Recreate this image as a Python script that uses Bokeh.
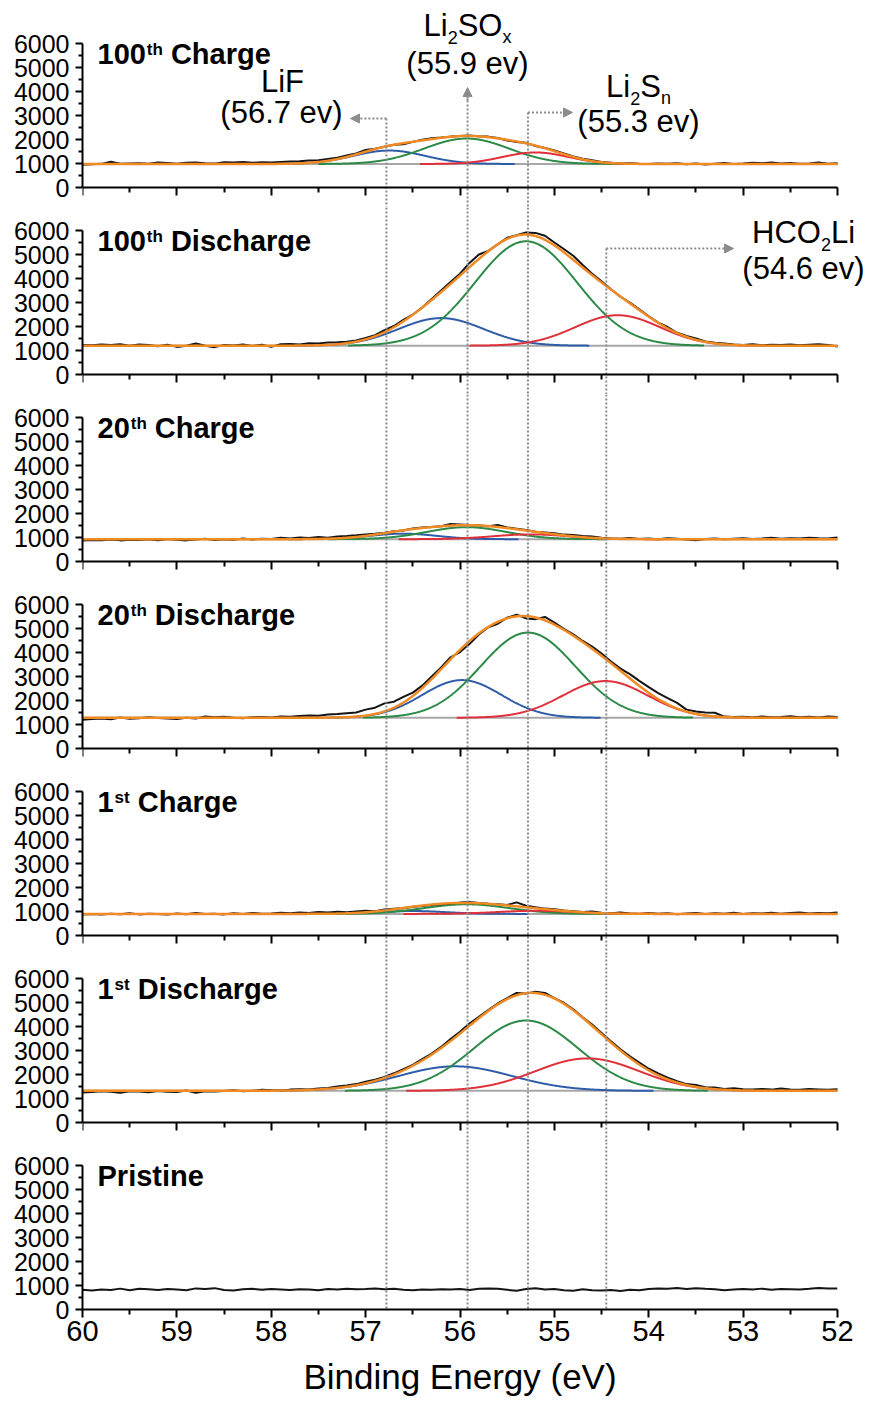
import numpy as np
from bokeh.plotting import figure
from bokeh.layouts import column
from bokeh.models import (Range1d, FixedTicker, Label, Arrow, NormalHead,
                          CustomJSTickFormatter)
from bokeh.embed import file_html
from bokeh.resources import INLINE

# ------------------------------------------------------------------ data
# binding-energy sampling grid of the measured spectra (eV), 60.0 -> 52.0
energy = np.round(np.linspace(60.0, 52.0, 81), 1)

counts_100_charge = [
    950, 970, 985, 1070, 990, 1000, 1010, 985, 1040, 1020,
    990, 1030, 1040, 1010, 995, 1050, 1040, 1060, 1030, 1050,
    1040, 1060, 1080, 1090, 1120, 1140, 1190, 1240, 1330, 1420,
    1560, 1620, 1700, 1780, 1800, 1900, 1990, 2050, 2080, 2120,
    2150, 2170, 2130, 2120, 2060, 1960, 1900, 1860, 1730, 1650,
    1540, 1420, 1290, 1200, 1140, 1060, 1030, 990, 1010, 985,
    980, 1000, 990, 1010, 970, 1000, 960, 990, 1020, 980,
    1000, 1030, 1010, 1040, 1000, 1020, 990, 1000, 1040, 990,
    1010]
counts_100_discharge = [
    1230, 1220, 1250, 1230, 1260, 1200, 1250, 1230, 1180, 1240,
    1150, 1200, 1290, 1200, 1140, 1230, 1210, 1250, 1190, 1240,
    1150, 1260, 1270, 1250, 1300, 1290, 1330, 1340, 1360, 1420,
    1520, 1640, 1850, 2020, 2280, 2500, 2790, 3150, 3500, 3850,
    4200, 4650, 5000, 5150, 5420, 5700, 5800, 5920, 5900, 5780,
    5500, 5230, 4950, 4560, 4200, 3880, 3550, 3240, 3000, 2720,
    2420, 2160, 1980, 1740, 1610, 1500, 1380, 1320, 1290, 1250,
    1230, 1260, 1220, 1240, 1230, 1250, 1220, 1240, 1260, 1230,
    1170]
counts_20_charge = [
    880, 900, 890, 920, 880, 910, 900, 930, 890, 940,
    910, 880, 920, 950, 900, 930, 910, 960, 920, 950,
    940, 990, 960, 1000, 980, 1020, 990, 1040, 1060, 1090,
    1130, 1160, 1200, 1260, 1290, 1380, 1420, 1440, 1470, 1560,
    1540, 1520, 1500, 1470, 1520, 1420, 1370, 1310, 1240, 1210,
    1180, 1120, 1100, 1060, 1040, 990, 960, 950, 980, 940,
    960, 930, 970, 950, 920, 890, 940, 960, 930, 950,
    970, 940, 960, 990, 950, 970, 960, 990, 970, 960,
    1000]
counts_20_discharge = [
    1200, 1230, 1250, 1220, 1290, 1240, 1260, 1300, 1270, 1250,
    1230, 1280, 1250, 1330, 1300, 1320, 1280, 1260, 1300, 1310,
    1290, 1330, 1320, 1350, 1380, 1360, 1420, 1440, 1470, 1500,
    1620, 1700, 1880, 1950, 2150, 2330, 2620, 3000, 3380, 3800,
    4020, 4350, 4750, 5050, 5200, 5450, 5580, 5420, 5390, 5480,
    5250, 4990, 4760, 4480, 4250, 3960, 3620, 3330, 3100, 2820,
    2560, 2310, 2100, 1900, 1620, 1540, 1500, 1490, 1330, 1310,
    1320, 1290, 1330, 1300, 1310, 1340, 1300, 1320, 1290, 1330,
    1310]
counts_1_charge = [
    870, 900, 880, 910, 890, 930, 880, 910, 900, 870,
    920, 890, 940, 900, 910, 880, 930, 900, 940, 910,
    920, 950, 930, 960, 940, 980, 960, 990, 970, 1000,
    1030, 1010, 1080, 1110, 1140, 1200, 1230, 1270, 1300, 1330,
    1370, 1400, 1350, 1320, 1300, 1270, 1380, 1240, 1180, 1120,
    1090, 1040, 1010, 980, 1000, 950, 930, 960, 920, 900,
    940, 910, 930, 890, 920, 940, 900, 930, 910, 950,
    900, 930, 920, 950, 910, 940, 960, 920, 940, 930,
    960]
counts_1_discharge = [
    1250, 1270, 1300, 1280, 1240, 1300, 1290, 1260, 1310, 1280,
    1270, 1330, 1240, 1300, 1290, 1310, 1340, 1300, 1320, 1360,
    1340, 1330, 1370, 1390, 1380, 1420, 1440, 1500, 1540, 1600,
    1700, 1780, 1900, 2050, 2220, 2400, 2640, 2870, 3150, 3480,
    3780, 4120, 4400, 4680, 4960, 5180, 5400, 5370, 5450, 5400,
    5180, 4990, 4720, 4380, 4080, 3730, 3380, 3050, 2760, 2500,
    2240, 2050, 1870, 1720, 1600, 1560, 1470, 1460, 1400, 1430,
    1390, 1380, 1400, 1370, 1420, 1380, 1360, 1400, 1380, 1360,
    1390]
counts_pristine = [
    820, 790, 830, 810, 870, 800, 860, 840, 810, 850,
    830, 800, 880, 850, 890, 810, 790, 840, 860, 820,
    850, 830, 810, 840, 830, 800, 850, 830, 860, 840,
    850, 870, 840, 860, 820, 800, 830, 820, 840, 830,
    850, 810, 860, 880, 860, 820, 780, 850, 890, 830,
    850, 800, 780, 840, 800, 790, 810, 770, 820, 800,
    850, 880, 860, 900, 850, 890, 860, 840, 800, 830,
    850, 830, 870, 820, 850, 840, 830, 860, 900, 870,
    880]

panel_titles = [("100", "th", "Charge"), ("100", "th", "Discharge"),
                ("20", "th", "Charge"), ("20", "th", "Discharge"),
                ("1", "st", "Charge"), ("1", "st", "Discharge"),
                ("Pristine", "", "")]
all_counts = [counts_100_charge, counts_100_discharge, counts_20_charge,
              counts_20_discharge, counts_1_charge, counts_1_discharge,
              counts_pristine]

# peak-fit parameters (first six panels)
background = [980, 1200, 930, 1280, 900, 1320]
blue_center = [56.75, 56.20, 56.60, 55.98, 56.50, 56.05]
blue_height = [560, 1150, 230, 1570, 120, 1020]
blue_sigma = [0.38, 0.45, 0.35, 0.42, 0.35, 0.60]
green_center = [55.93, 55.30, 55.93, 55.28, 55.93, 55.30]
green_height = [1060, 4350, 500, 3550, 400, 2930]
green_sigma = [0.45, 0.54, 0.42, 0.50, 0.45, 0.55]
red_center = [55.20, 54.33, 55.25, 54.46, 55.20, 54.65]
red_height = [480, 1270, 200, 1530, 130, 1350]
red_sigma = [0.35, 0.45, 0.40, 0.45, 0.40, 0.55]

# reference energies of the dotted guide lines
ref_energy = [56.78, 55.92, 55.28, 54.45]

x_ticks = [60, 59, 58, 57, 56, 55, 54, 53, 52]
x_minor = [59.5, 58.5, 57.5, 56.5, 55.5, 54.5, 53.5, 52.5]
y_ticks = [0, 1000, 2000, 3000, 4000, 5000, 6000]
y_minor = [500, 1500, 2500, 3500, 4500, 5500]

# ------------------------------------------------------------------ style
FONT = "Liberation Sans"
BLACK, ORANGE = "#141414", "#F08A24"
BLUE, GREEN, RED = "#2F5CA8", "#2A8A46", "#E0303A"
BASE, DOT = "#A8A8A8", "#8C8C8C"

PX = 144 / 6000.0           # pixels per count
LEFT, SCALE_W = 82, 755     # 60 eV at x=82 px, 52 eV at x=837 px
FW = 871 - LEFT             # frame runs to the right edge (room for labels)
X_END = 60 - FW * 8.0 / SCALE_W
zero_px = [187 * (k + 1) for k in range(7)]
bounds_px = [0] + [187 * k + 20 for k in range(1, 7)] + [1309]

REG = {'L': .556, 'i': .222, 'F': .611, 'S': .667, 'O': .778, 'x': .5,
       'n': .556, 'H': .722, 'C': .722, '(': .333, ')': .333, '.': .278,
       ' ': .278, 'e': .556, 'v': .5}
BOLD = {'t': .333, 'h': .611, 's': .556, ' ': .278, 'C': .722, 'a': .556,
        'r': .389, 'g': .611, 'e': .556, 'D': .722, 'i': .278, 'c': .556,
        'P': .667, 'n': .611}


def tw(s, size, bold=False):
    tab = BOLD if bold else REG
    return sum(tab.get(c, .556) for c in s) * size


def xd(px):
    return 60 - (px - LEFT) * 8.0 / SCALE_W


def yd(i, py):
    return (zero_px[i] - py) / PX


def rich(p, i, pieces, px, py, bold=False, center=False):
    """pieces: (text, size, raise_px, gap_before_px); py = main baseline."""
    total = sum(tw(t, s, bold) + g for t, s, dy, g in pieces)
    x0 = px - total / 2 if center else px
    off = 0
    for t, s, dy, g in pieces:
        off += g
        mid = py - dy - 0.36 * s
        p.add_layout(Label(x=xd(x0 + off), y=yd(i, mid), text=t,
                           text_font=FONT, text_font_size=f"{s}px",
                           text_font_style="bold" if bold else "normal",
                           text_align="left", text_baseline="middle",
                           text_color="black"))
        off += tw(t, s, bold)


def plain(p, i, text, px, py, size=31):
    p.add_layout(Label(x=xd(px), y=yd(i, py), text=text, text_font=FONT,
                       text_font_size=f"{size}px", text_align="center",
                       text_baseline="middle", text_color="black"))


def arrow(p, x0, y0, x1, y1):
    p.add_layout(Arrow(end=NormalHead(size=9, fill_color=DOT, line_color=DOT,
                                      line_width=1),
                       x_start=x0, y_start=y0, x_end=x1, y_end=y1,
                       line_color=DOT, line_width=2, line_dash="2 2"))


fine = np.linspace(60.0, 52.0, 1601)
figs = []
for i in range(7):
    top_px, bot_px = bounds_px[i], bounds_px[i + 1]
    ymax = yd(i, top_px)
    ymin = yd(i, bot_px)
    last = (i == 6)
    fw = SCALE_W if last else FW
    p = figure(frame_width=fw, frame_height=bot_px - top_px,
               x_range=Range1d(60, 52 if last else X_END),
               y_range=Range1d(ymin, ymax),
               output_backend="svg", toolbar_location=None,
               min_border_left=LEFT, min_border_right=871 - LEFT - fw,
               min_border_top=0, min_border_bottom=0)
    p.outline_line_color = None
    p.grid.visible = False
    p.background_fill_color = "white"
    p.border_fill_color = "white"

    ya = p.yaxis[0]
    ya.ticker = FixedTicker(ticks=y_ticks, minor_ticks=y_minor)
    ya.bounds = (0, 6000)
    ya.major_tick_out, ya.major_tick_in = 7, 0
    ya.minor_tick_out, ya.minor_tick_in = 4, 0
    ya.axis_line_width = 2
    ya.major_tick_line_width = 2
    ya.minor_tick_line_width = 2
    ya.major_label_text_font = FONT
    ya.major_label_text_font_size = "25px"
    ya.major_label_text_color = "black"
    ya.major_label_standoff = 6

    xa = p.xaxis[0]
    xa.ticker = FixedTicker(ticks=x_ticks, minor_ticks=x_minor)
    xa.bounds = (52, 60)
    xa.major_tick_out, xa.major_tick_in = 8, 0
    xa.minor_tick_out, xa.minor_tick_in = 5, 0
    xa.axis_line_width = 2
    xa.major_tick_line_width = 2
    xa.minor_tick_line_width = 2
    if last:
        xa.major_label_text_font = FONT
        xa.major_label_text_font_size = "29px"
        xa.major_label_text_color = "black"
        xa.major_label_standoff = 3
        xa.axis_label = "Binding Energy (eV)"
        xa.axis_label_text_font = FONT
        xa.axis_label_text_font_size = "35px"
        xa.axis_label_text_font_style = "normal"
        xa.axis_label_text_color = "black"
        xa.axis_label_standoff = 13
    else:
        xa.fixed_location = 0
        xa.formatter = CustomJSTickFormatter(code="return ''")

    counts = all_counts[i]
    assert len(counts) == len(energy)
    if i < 6:
        b = background[i]
        comps = []
        for c, h, s, col in ((blue_center[i], blue_height[i], blue_sigma[i], BLUE),
                             (green_center[i], green_height[i], green_sigma[i], GREEN),
                             (red_center[i], red_height[i], red_sigma[i], RED)):
            g = h * np.exp(-0.5 * ((fine - c) / s) ** 2)
            comps.append((g, c, s, col))
        p.line(fine, np.full_like(fine, b), line_color=BASE, line_width=2)
        for g, c, s, col in comps:
            m = np.abs(fine - c) <= 3.5 * s
            p.line(fine[m], b + g[m], line_color=col, line_width=2)
        p.line(energy, counts, line_color=BLACK, line_width=2)
        env = b + sum(g for g, _, _, _ in comps)
        p.line(fine, env, line_color=ORANGE, line_width=2.5)
    else:
        p.line(energy, counts, line_color=BLACK, line_width=2)

    # dotted guide lines
    starts = [ymax] * 4
    if i == 0:
        starts = [yd(0, 118), yd(0, 92), yd(0, 112), None]
    elif i == 1:
        starts[3] = yd(1, 248)
    x0s, y0s, x1s, y1s = [], [], [], []
    for k in range(4):
        if starts[k] is None:
            continue
        x0s.append(ref_energy[k]); x1s.append(ref_energy[k])
        y0s.append(starts[k]); y1s.append(ymin)
    p.segment(x0=x0s, y0=y0s, x1=x1s, y1=y1s, line_color=DOT,
              line_width=2, line_dash="2 2")

    # panel title
    num, sup, rest = panel_titles[i]
    base_py = zero_px[i] - 144 + 21
    pieces = [(num, 29, 0, 0)]
    if sup:
        pieces += [(sup, 17, 9, 1), (rest, 29, 0, 8)]
    rich(p, i, pieces, 97, base_py, bold=True)

    if i == 0:
        plain(p, 0, "LiF", 282, 81)
        plain(p, 0, "(56.7 ev)", 281, 112)
        rich(p, 0, [("Li", 31, 0, 0), ("2", 18, -7, 0), ("SO", 31, 0, 0),
                    ("x", 18, -7, 0)], 467, 36, center=True)
        plain(p, 0, "(55.9 ev)", 467, 63)
        rich(p, 0, [("Li", 31, 0, 0), ("2", 18, -7, 0), ("S", 31, 0, 0),
                    ("n", 18, -7, 0)], 638, 97, center=True)
        plain(p, 0, "(55.3 ev)", 638, 121)
        arrow(p, ref_energy[0], yd(0, 118), xd(350), yd(0, 118))
        arrow(p, ref_energy[1], yd(0, 100), ref_energy[1], yd(0, 87))
        arrow(p, ref_energy[2], yd(0, 112), xd(572), yd(0, 112))
    if i == 1:
        rich(p, 1, [("HCO", 31, 0, 0), ("2", 18, -7, 0), ("Li", 31, 0, 0)],
             803, 243, center=True)
        plain(p, 1, "(54.6 ev)", 803, 268)
        arrow(p, ref_energy[3], yd(1, 248), xd(733), yd(1, 248))
    figs.append(p)

layout = column(*figs, spacing=0)
open("out.html", "w").write(file_html(layout, INLINE))
